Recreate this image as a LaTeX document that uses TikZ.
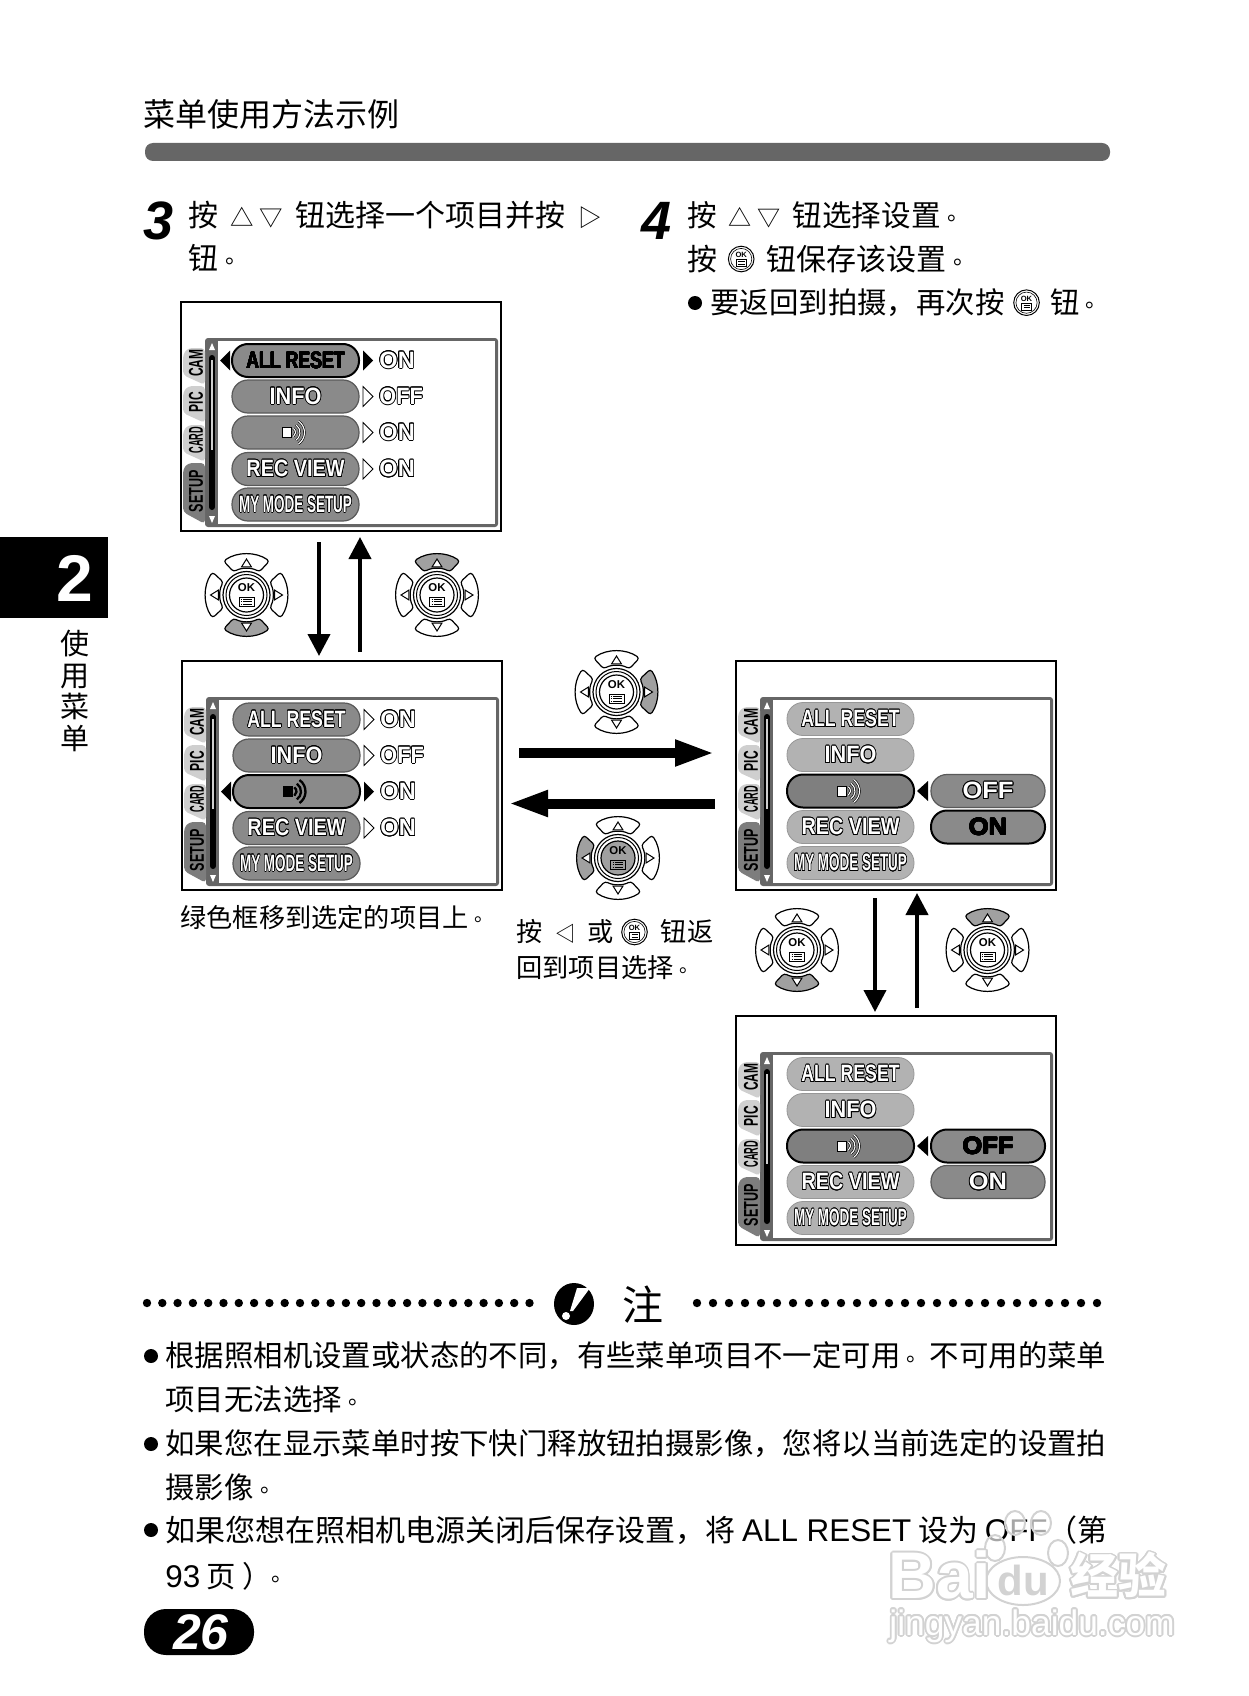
\documentclass[tikz,border=0pt]{standalone}
\usepackage{fontspec}
\setmainfont{Noto Sans CJK SC}
\newfontfamily\lat{Liberation Sans}
\usepackage[copies]{contour}
\contourlength{.42pt}
\usetikzlibrary{arrows.meta}
\definecolor{barGray}{HTML}{666666}
\definecolor{pillGray}{HTML}{8A8A8A}
\definecolor{paleGray}{HTML}{B2B2B2}
\definecolor{tabGray}{HTML}{CFCFCF}
\definecolor{btnGray}{HTML}{A0A0A0}
\definecolor{markGray}{HTML}{D2D2D2}
\newcommand{\outlined}[2]{\scalebox{#1}[1]{\lat\bfseries\color{white}\contour{black}{#2}}}
\newcommand{\plainlab}[2]{\scalebox{#1}[1]{\contourlength{.2pt}\lat\bfseries\color{black}\contour{black}{#2}}}
\newcommand{\tri}[1]{\scalebox{.78}{#1}}
\newcommand{\jd}{\hbox to 1em{\kern.22em\raisebox{.2em}{\scalebox{.75}{。}}\hss}}
\newcommand{\latw}[1]{{\lat\fontsize{15.7}{18}\selectfont #1}}
\newcommand{\okmark}{\tikz[baseline=-.7ex,x=1pt,y=1pt]{\draw[line width=.5pt] (0,0) circle (6.4); \draw[line width=.3pt] (0,0) circle (5.3); \node[anchor=center,inner sep=0pt,font=\lat\bfseries\fontsize{3.8}{4}\selectfont] (oktag) at (0,2.1) {OK}; \draw[line width=.3pt] (-2.6,-3.6) rectangle (2.6,-.3); \draw[line width=.3pt] (-1.5,-1.2) -- (1.7,-1.2) (-1.5,-2.5) -- (1.7,-2.5);}}
\tikzset{
  headtext/.style={anchor=west,inner sep=0pt,font=\fontsize{16}{19}\selectfont},
  steptext/.style={anchor=west,inner sep=0pt,font=\fontsize{15}{18}\selectfont},
  notetext/.style={anchor=west,inner sep=0pt,font=\fontsize{14.7}{18}\selectfont},
  captext/.style={anchor=west,inner sep=0pt,font=\fontsize{13.1}{16}\selectfont},
  stepnum/.style={inner sep=0pt,font=\lat\bfseries\itshape\fontsize{27}{28}\selectfont},
  menupill/.style={minimum width=63.5pt,minimum height=16.5pt,inner sep=0pt,rounded corners=8pt,font=\fontsize{11.8}{12}\selectfont},
  plainpill/.style={menupill,fill=pillGray,draw=black!65,line width=.6pt},
  selpill/.style={menupill,fill=pillGray,draw=black,line width=1pt},
  palepill/.style={menupill,fill=paleGray,draw=paleGray!85!black,line width=.4pt},
  tablabel/.style={rotate=90,inner sep=0pt,font=\lat\bfseries\fontsize{10}{10}\selectfont},
  longarrow/.style={line width=2pt,-{Triangle[length=11pt,width=11pt]}},
  widearrow/.style={line width=5pt,-{Triangle[length=20pt,width=12pt]}},
  pics/menubase/.style={code={
    \node[draw=black,line width=1pt,minimum width=160pt,minimum height=114.5pt,inner sep=0pt,anchor=north west] (frame) at (0,0) {};
    \fill[barGray,rounded corners=1.5pt] (25,37) rectangle (318,226);
    \fill[white] (38,40) rectangle (315,223);
    \foreach \t/\lab/\sx/\cy in {0/CAM/.6/62,38/PIC/.6/101,77/CARD/.46/139} {
      \fill[tabGray,rounded corners=2pt] (25,47+\t) -- (8,47+\t) -- (3,53+\t) -- (3,74+\t) -- (25,84+\t) -- cycle;
      \node[tablabel] (tab\lab) at (16,\cy) {\scalebox{\sx}[1]{\lab}};
    }
    \fill[barGray!85,rounded corners=2pt] (25,162) -- (8,162) -- (3,168) -- (3,211) -- (25,223) -- cycle;
    \node[tablabel] (tabSETUP) at (16,190) {\scalebox{.63}[1]{SETUP}};
    \draw[black,line width=3pt,line cap=round] (32,57) -- (32,206);
    \draw[tabGray,line width=1pt] (32,59) -- (32,149);
    \fill[white] (32,42) -- (35,49) -- (29,49) -- cycle;
    \fill[white] (32,222) -- (35,215) -- (29,215) -- cycle;
  }},
  pics/speaker/.style={code={
    \draw[fill=#1,line width=.3pt] (-13,-5) rectangle (-4,5);
    \foreach \rad in {5,9.5,14}
      \draw[line width=.3pt,double=#1,double distance=.55pt] ([shift={(-5,0)}]-55:\rad) arc[start angle=-55,end angle=55,radius=\rad];
  }},
  pics/listscreen/.style={code={
    \pic {menubase};
    \foreach \r/\lab/\sx/\cy/\val/\vx in {1/ALL RESET/.75/59.5/ON/1,2/INFO/.92/95.5/OFF/.92,3/{}/1/131.5/ON/1,4/REC VIEW/.84/168/ON/1,5/MY MODE SETUP/.57/203.5/{}/1} {
      \ifnum\r=#1\relax
        \node[selpill] (item\r) at (115.5,\cy) {\plainlab{\sx}{\lab}};
        \fill (50,\cy-10) -- (40,\cy) -- (50,\cy+10) -- cycle;
        \fill (183,\cy-10) -- (193,\cy) -- (183,\cy+10) -- cycle;
      \else
        \node[plainpill] (item\r) at (115.5,\cy) {\outlined{\sx}{\lab}};
        \ifnum\r<5\relax
          \draw[fill=white,line width=.4pt] (183,\cy-10) -- (193,\cy) -- (183,\cy+10) -- cycle;
        \fi
      \fi
      \node[anchor=west,inner sep=0pt,font=\fontsize{11.8}{12}\selectfont] (val\r) at (199,\cy) {\outlined{\vx}{\val}};
    }
  }},
  pics/choicescreen/.style 2 args={code={
    \pic {menubase};
    \foreach \r/\lab/\sx/\cy in {1/ALL RESET/.75/59,2/INFO/.92/95,4/REC VIEW/.84/167,5/MY MODE SETUP/.57/203}
      \node[palepill] (item\r) at (115.5,\cy) {\outlined{\sx}{\lab}};
    \node[selpill,fill=pillGray!92!black] (item3) at (115.5,131) {};
    \fill (193,121) -- (182,131) -- (193,141) -- cycle;
    \node[#1,minimum width=57pt] (choiceOFF) at (253,131) {#2};
  }},
  pics/dpad/.style 2 args={code={
    \foreach \a in {0,90,180,270} {
      \ifnum\a=#1\relax\def\btnfill{btnGray}\else\def\btnfill{white}\fi
      \draw[fill=\btnfill,line width=.6pt,rounded corners=1.5pt] (\a-34:41) arc[start angle=\a-34,end angle=\a+34,radius=41] -- (\a+29:26.5) arc[start angle=\a+29,end angle=\a-29,radius=26.5] -- cycle;
      \draw[fill=white,line width=.5pt] (\a:36) -- (\a+10:28.5) -- (\a-10:28.5) -- cycle;
    }
    \draw[fill=white,line width=.6pt] (0,0) circle (23.5);
    \draw[line width=.5pt] (0,0) circle (20.5);
    \draw[fill=#2,line width=.6pt] (0,0) circle (17);
    \node[anchor=center,inner sep=0pt,font=\lat\bfseries\fontsize{5.7}{6}\selectfont] (word) at (0,-7) {OK};
    \draw[fill=#2,line width=.5pt] (-7.5,2) rectangle (7.5,11);
    \draw[line width=.35pt] (-3.5,4) -- (5,4) (-3.5,6.5) -- (5,6.5) (-3.5,9) -- (5,9);
    \draw[line width=.35pt] (-5.5,4) -- (-4.5,4) (-5.5,6.5) -- (-4.5,6.5) (-5.5,9) -- (-4.5,9);
  }},
}
\begin{document}
\begin{tikzpicture}[x=.5pt,y=-.5pt]
\useasboundingbox (0,0) rectangle (1248,1696);
% page head
\node[headtext] (title) at (143,114) {菜单使用方法示例};
\fill[barGray,rounded corners=4pt] (145,143) rectangle (1110,161);
\fill (0,537) rectangle (108,618);
\node[inner sep=0pt,text=white,font=\lat\bfseries\fontsize{33}{33}\selectfont] (chapnum) at (75,578) {2};
\node[inner sep=0pt,align=center,font=\fontsize{14.5}{15.9}\selectfont] (chapname) at (75,691) {使\\用\\菜\\单};
% steps
\node[stepnum] (numthree) at (159,221) {3};
\node[steptext] (threea) at (188,215) {按\hspace{.4em}\tri{△}\hspace{.2em}\tri{▽}\hspace{.4em}钮选择一个项目并按\hspace{.45em}\tri{▷}};
\node[steptext] (threeb) at (188,258) {钮\jd};
\node[stepnum] (numfour) at (657,221) {4};
\node[steptext,font=\fontsize{14.8}{18}\selectfont] (foura) at (687,215) {按\hspace{.4em}\tri{△}\hspace{.2em}\tri{▽}\hspace{.4em}钮选择设置\jd};
\node[steptext] (fourb) at (687,259) {按\hspace{.35em}\okmark\hspace{.4em}钮保存该设置\jd};
\fill (695,303) circle (7);
\node[notetext] (fourc) at (710,303) {要返回到拍摄，再次按\hspace{.3em}\okmark\hspace{.35em}钮\jd};
% screens
\pic (scr1) at (180,301) {listscreen=1};
\pic (scr1s) at (295.5,432.5) {speaker=white};
\pic (scr2) at (181,660) {listscreen=3};
\pic (scr2s) at (296.5,791.5) {speaker=black};
\pic (scr3) at (735,660) {choicescreen={plainpill}{\outlined{1.08}{OFF}}};
\node[selpill,minimum width=57pt] (scr3on) at (988,827) {\plainlab{1.08}{ON}};
\pic (scr3s) at (850.5,791) {speaker=white};
\pic (scr4) at (735,1015) {choicescreen={selpill}{\plainlab{1.08}{OFF}}};
\node[plainpill,minimum width=57pt] (scr4on) at (988,1182) {\outlined{1.08}{ON}};
\pic (scr4s) at (850.5,1146) {speaker=white};
% buttons
\pic (pad1) at (246.5,595) {dpad={90}{white}};
\pic (pad2) at (437,595) {dpad={270}{white}};
\pic (pad3) at (616.5,692) {dpad={0}{white}};
\pic (pad4) at (618,858) {dpad={180}{btnGray}};
\pic (pad5) at (797,950) {dpad={90}{white}};
\pic (pad6) at (987.5,950) {dpad={270}{white}};
% arrows
\coordinate (downAtop) at (319,542);
\coordinate (downAend) at (319,656);
\coordinate (upAtop) at (360,537);
\coordinate (upAend) at (360,652);
\coordinate (rightLeft) at (519,753);
\coordinate (rightEnd) at (715,753);
\coordinate (leftRight) at (715,803.5);
\coordinate (leftEnd) at (508,803.5);
\coordinate (downBtop) at (875,898);
\coordinate (downBend) at (875,1012);
\coordinate (upBtop) at (917,893);
\coordinate (upBend) at (917,1008);
\draw[longarrow] (downAtop) -- (downAend);
\draw[longarrow] (upAend) -- (upAtop);
\draw[widearrow] (rightLeft) -- (rightEnd);
\draw[widearrow] (leftRight) -- (leftEnd);
\draw[longarrow] (downBtop) -- (downBend);
\draw[longarrow] (upBend) -- (upBtop);
% captions
\node[captext] (capleft) at (180,917) {绿色框移到选定的项目上\jd};
\node[captext] (capmida) at (516,932) {按\hspace{.5em}\tri{◁}\hspace{.42em}或\hspace{.3em}\okmark\hspace{.5em}钮返};
\node[captext] (capmidb) at (516,968) {回到项目选择\jd};
% note block
\foreach \i in {0,...,25} \fill (147+\i*15.3,1303) circle (4.2);
\foreach \i in {0,...,25} \fill (697+\i*16,1303) circle (4.2);
\fill (574,1304) ellipse[x radius=20,y radius=21];
\fill[white] (577,1288) -- (590,1288) -- (573,1311) -- (570,1311) -- cycle;
\fill[white] (566,1316) circle (4);
\node[inner sep=0pt,font=\fontsize{20.5}{21}\selectfont] (notehead) at (643,1305) {注};
\foreach \cy in {1356,1444,1530} \fill (151,\cy) circle (7);
\node[notetext] (notea) at (165,1356) {根据照相机设置或状态的不同，有些菜单项目不一定可用\jd 不可用的菜单};
\node[notetext] (noteb) at (165,1399) {项目无法选择\jd};
\node[notetext] (notec) at (165,1444) {如果您在显示菜单时按下快门释放钮拍摄影像，您将以当前选定的设置拍};
\node[notetext] (noted) at (165,1487) {摄影像\jd};
\node[notetext,font=\fontsize{15}{18}\selectfont] (notee) at (165,1530) {如果您想在照相机电源关闭后保存设置，将 \latw{ALL RESET} 设为 \latw{OFF}（第};
\node[notetext] (notef) at (165,1576) {\latw{93} 页 ）\hspace{-.25em}\jd};
\fill[rounded corners=11pt] (144,1609) rectangle (254,1655);
\node[inner sep=0pt,text=white,font=\lat\bfseries\itshape\fontsize{25}{25}\selectfont] (pagenum) at (201,1632) {26};
% baidu mark
\foreach \px/\py/\rx/\ry in {995/1548/10/13,1015/1523/10/12,1041/1523/10/12,1058/1553/10/13}
  \draw[fill=white,fill opacity=.65,draw=markGray,line width=1pt] (\px,\py) ellipse[x radius=\rx,y radius=\ry];
\draw[fill=white,draw=markGray,line width=1pt] (1023,1581) ellipse[x radius=37,y radius=24];
\contourlength{.9pt}
\node[anchor=west,inner sep=0pt,text=white,font=\lat\bfseries\fontsize{33}{34}\selectfont] (markbai) at (888,1576) {\contour{markGray}{Bai}};
\node[inner sep=0pt,text=markGray,font=\lat\bfseries\fontsize{21}{22}\selectfont] (markdu) at (1023,1580) {du};
\node[anchor=west,inner sep=0pt,text=white,font=\bfseries\fontsize{24}{24}\selectfont] (markjy) at (1070,1576) {\contour{markGray}{经验}};
\node[anchor=west,inner sep=0pt,text=white,font=\lat\fontsize{17.7}{18}\selectfont] (markurl) at (889,1627) {\contour{markGray}{jingyan.baidu.com}};
\end{tikzpicture}
\end{document}
